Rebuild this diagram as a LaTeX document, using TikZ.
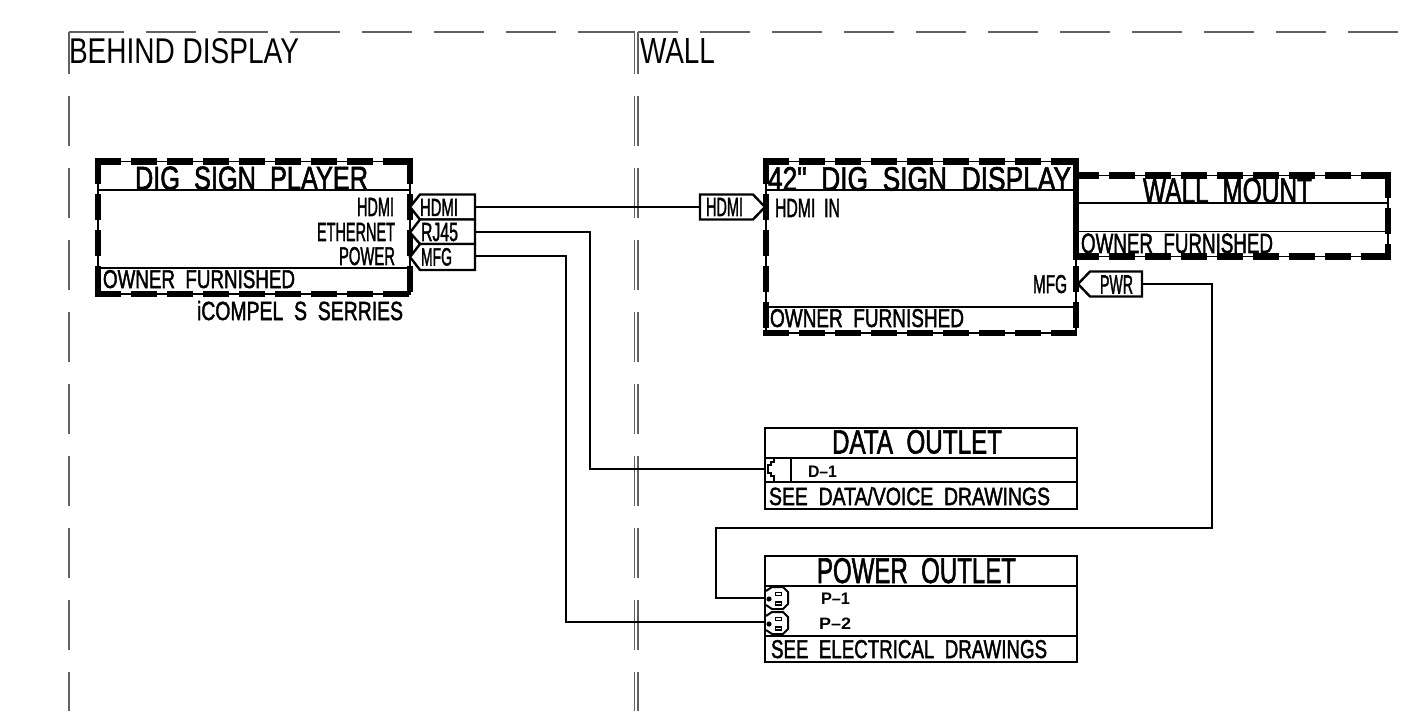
\documentclass[tikz,border=0pt]{standalone}
\usepackage{graphicx}
\usepackage{fontspec}
\setmainfont{Liberation Sans}
\newfontfamily\cad[FakeBold=2]{Liberation Sans}
\newcommand{\fitbox}[3]{\resizebox{#1pt}{#2pt}{#3}}
\newcommand{\cadbox}[3]{\resizebox{#1pt}{#2pt}{\cad #3}}
\tikzset{
  lab/.style={anchor=base west,inner sep=0pt,outer sep=0pt,text=black},
  frame/.style={draw=black,line width=1.9pt,anchor=north west,inner sep=0pt,outer sep=0pt,rectangle},
  hatch/.style={draw=black,line width=6.2pt,line cap=rect,dash pattern=on 19.5pt off 16.5pt},
  wire/.style={draw=black,line width=2pt,line join=miter},
  tagbox/.style={draw=black,fill=white,line width=2.4pt,line join=miter},
  bound/.style={draw=black!62,line width=1.5pt,dash pattern=on 50pt off 22pt},
  boundsolid/.style={draw=black!62,line width=1.5pt},
  fine/.style={draw=black,line width=1.8pt},
}
\begin{document}
\begin{tikzpicture}[x=1pt,y=-1pt]
\useasboundingbox (0,0) rectangle (1413,711);
% ---------- boundaries
\coordinate (bTL) at (69,32);
\coordinate (bTLx) at (74,32);
\coordinate (bTR) at (635,32);
\coordinate (bB) at (69,711);
\coordinate (wTL) at (638,32);
\coordinate (wTR) at (1413,32);
\coordinate (wB) at (638,711);
\coordinate (mTL) at (634.5,32);
\coordinate (mB) at (634.5,711);
\draw[bound] (bTLx) -- (bTR);
\draw[boundsolid] (bTL) -- (bTLx);
\draw[boundsolid] (579,32) -- (bTR);
\draw[bound,dash phase=8pt] (bTL) -- (bB);
\draw[bound,dash phase=8pt] (mTL) -- (mB);
\draw[bound,dash phase=8pt] (wTL) -- (wB);
\draw[boundsolid] (wTL) -- (678,32);
\draw[bound] (700,32) -- (wTR);
\node[lab] (behind) at (69,64) {\fitbox{230}{25}{BEHIND DISPLAY}};
\node[lab] (wall) at (640,64) {\fitbox{75}{25}{WALL}};
% ---------- frames
\node[frame,minimum width=311.4pt,minimum height=132.2pt] (player) at (98.3,161.5) {};
\node[frame,minimum width=310pt,minimum height=171.5pt] (display) at (766,161.5) {};
\node[frame,minimum width=312pt,minimum height=81pt] (mount) at (1076,175.5) {};
\node[frame,minimum width=312pt,minimum height=81pt] (data) at (765,428) {};
\node[frame,minimum width=312pt,minimum height=106pt] (power) at (765,556) {};
\foreach \b in {player,display,mount}{
  \draw[hatch] (\b.north west) -- (\b.north east);
  \draw[hatch] (\b.south west) -- (\b.south east);
  \draw[hatch] (\b.north west) -- (\b.south west);
  \draw[hatch] (\b.north east) -- (\b.south east);
}
% dividers
\draw[fine] (98.3,190) -- (409.7,190);
\draw[fine] (98.3,268) -- (409.7,268);
\draw[fine] (766,190) -- (1076,190);
\draw[fine] (766,307) -- (1076,307);
\draw[fine] (1076,203) -- (1388,203);
\draw[fine] (1076,231.5) -- (1388,231.5);
\draw[fine] (765,458) -- (1077,458);
\draw[fine] (765,482) -- (1077,482);
\draw[fine] (765,586) -- (1077,586);
\draw[fine] (765,636) -- (1077,636);
% ---------- player text
\node[lab] (t1) at (135,189.5) {\cadbox{233}{23}{DIG\ \ SIGN\ \ PLAYER}};
\node[lab] (t2) at (357,216) {\cadbox{37}{18}{HDMI}};
\node[lab] (t3) at (317,241) {\cadbox{78}{18}{ETHERNET}};
\node[lab] (t4) at (339,265) {\cadbox{56}{18}{POWER}};
\node[lab] (t5) at (103,288) {\cadbox{192}{18}{OWNER\ \ FURNISHED}};
\node[lab] (t6) at (197,320) {\cadbox{206}{19}{iCOMPEL\ \ S\ \ SERRIES}};
% ---------- tags, player side
\coordinate (hdmiOut) at (475,207);
\coordinate (rjOut) at (475,232.5);
\coordinate (mfgOut) at (475,256.5);
\draw[tagbox] (410,207) -- (420,194.5) -- (475,194.5) -- (475,219.5) -- (420,219.5) -- cycle;
\draw[tagbox] (410,232.5) -- (420,219.5) -- (475,219.5) -- (475,244) -- (420,244) -- cycle;
\draw[tagbox] (410,257) -- (420,244) -- (475,244) -- (475,270) -- (420,270) -- cycle;
\node[lab] (t7) at (420,216) {\cadbox{38}{17}{HDMI}};
\node[lab] (t8) at (421,241) {\cadbox{37}{18}{RJ45}};
\node[lab] (t9) at (421,265.5) {\cadbox{31}{17.5}{MFG}};
% ---------- display side
\coordinate (hdmiIn) at (700,207);
\draw[tagbox] (700,194.5) -- (753,194.5) -- (765,207) -- (753,219.5) -- (700,219.5) -- cycle;
\node[lab] (t10) at (706,216) {\cadbox{37}{18}{HDMI}};
\coordinate (pwrOut) at (1142,284);
\draw[tagbox] (1078,284) -- (1090,271.5) -- (1142,271.5) -- (1142,296.5) -- (1090,296.5) -- cycle;
\node[lab] (t11) at (1100,293.5) {\cadbox{33}{18}{PWR}};
\node[lab] (t12) at (768,190.5) {\cadbox{303}{23.5}{42"\ \ DIG\ \ SIGN\ \ DISPLAY}};
\node[lab] (t13) at (775,217) {\cadbox{65}{18}{HDMI\ \ IN}};
\node[lab] (t14) at (1033,293) {\cadbox{34}{18}{MFG}};
\node[lab] (t15) at (770,327) {\cadbox{194}{18}{OWNER\ \ FURNISHED}};
\node[lab] (t16) at (1143,203) {\cadbox{169}{25}{WALL\ \ MOUNT}};
\node[lab] (t17) at (1081,253) {\cadbox{192}{19.5}{OWNER\ \ FURNISHED}};
% ---------- data outlet
\node[lab] (t18) at (832,453.5) {\cadbox{170}{23.5}{DATA\ \ OUTLET}};
\node[lab] (t19) at (769,505) {\cadbox{281}{18}{SEE\ \ DATA/VOICE\ \ DRAWINGS}};
\node[lab] (t20) at (808,477) {\fitbox{29}{11.5}{\bfseries D--1}};
\draw[fine] (791,458) -- (791,482);
\draw[fine] (774,458) -- (774,462) -- (771,462) -- (771,465) -- (768,465) -- (768,473) -- (771,473) -- (771,476) -- (774,476) -- (774,482);
\coordinate (jack) at (766,469);
% ---------- power outlet
\node[lab] (t21) at (817,583) {\cadbox{199}{25}{POWER\ \ OUTLET}};
\node[lab] (t22) at (771,658) {\cadbox{276}{18}{SEE\ \ ELECTRICAL\ \ DRAWINGS}};
\node[lab] (t23) at (821,604.5) {\fitbox{29}{11.5}{\bfseries P--1}};
\node[lab] (t24) at (819,629) {\fitbox{32}{11.5}{\bfseries P--2}};
\foreach \c/\n in {598/pOne,623/pTwo}{
  \draw[black,line width=2pt] (766,\c-7) -- (772,\c-11) -- (783,\c-11) -- (788,\c-6) -- (788,\c+6) -- (783,\c+11) -- (772,\c+11) -- (766,\c+7);
  \draw[black,line width=1.5pt] (775.5,\c-5.5) rectangle (781.5,\c-2.5);
  \draw[black,line width=1.5pt] (775.5,\c+4) rectangle (781.5,\c+7);
  \fill[black] (769,\c+1) circle (2.6pt);
  \coordinate (\n) at (766,\c);
}
% ---------- connectors
\coordinate (pTwoIn) at (766,622);
\draw[wire] (hdmiOut) -- (hdmiIn);
\draw[wire] (rjOut) -- (590,232.5) -- (590,469) -- (jack);
\draw[wire] (mfgOut) -- (566,256.5) -- (566,622) -- (pTwoIn);
\draw[wire] (pwrOut) -- (1212,284) -- (1212,528) -- (716,528) -- (716,598) -- (pOne);
\end{tikzpicture}
\end{document}
